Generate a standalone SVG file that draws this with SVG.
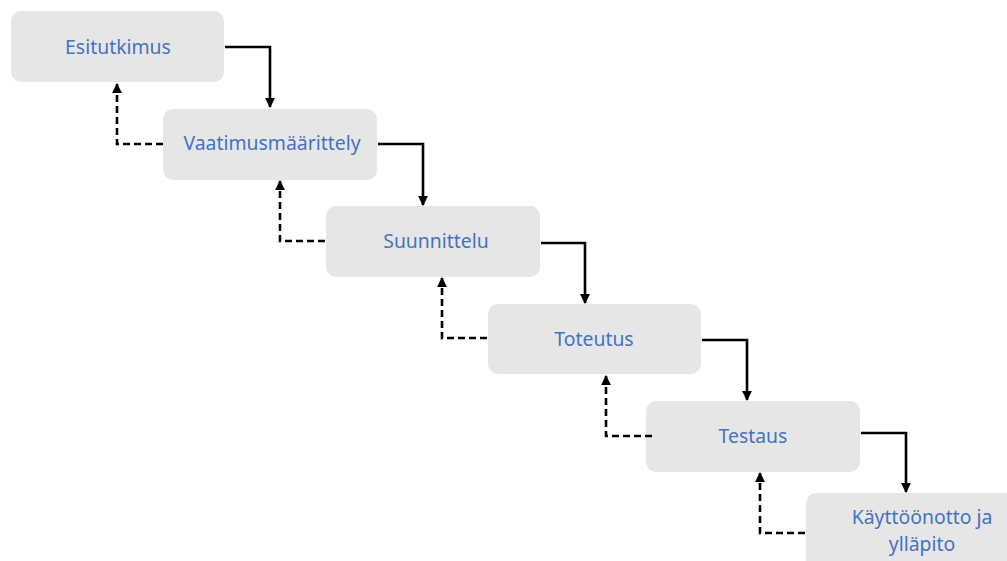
<svg xmlns="http://www.w3.org/2000/svg" width="1007" height="561" viewBox="0 0 1007 561">
  <style>
    .box { fill: #e6e6e6; }
    .lbl { font-family: "Noto Sans", "Liberation Sans", sans-serif; font-size: 19.4px; fill: #4472c4; text-anchor: middle; }
    .flow { fill: none; stroke: #000; stroke-width: 2.6; }
    .back { fill: none; stroke: #000; stroke-width: 2.6; stroke-dasharray: 7 4; }
  </style>
  <defs>
    <marker id="arrow" viewBox="0 0 10 10" refX="9" refY="5" markerWidth="3.8" markerHeight="3.8" orient="auto" markerUnits="strokeWidth">
      <path d="M0,0 L10,5 L0,10 Z" fill="#000"/>
    </marker>
  </defs>
  <rect width="1007" height="561" fill="#fff"/>

  <g id="esitutkimus">
    <rect class="box" x="11" y="11" width="213" height="71" rx="10"/>
    <text class="lbl" x="118" y="54">Esitutkimus</text>
  </g>
  <g id="vaatimusmaarittely">
    <rect class="box" x="163" y="109" width="214" height="71" rx="10"/>
    <text class="lbl" x="272" y="150">Vaatimusmäärittely</text>
  </g>
  <g id="suunnittelu">
    <rect class="box" x="326" y="206" width="214" height="71" rx="10"/>
    <text class="lbl" x="436" y="248">Suunnittelu</text>
  </g>
  <g id="toteutus">
    <rect class="box" x="488" y="304" width="213" height="70" rx="10"/>
    <text class="lbl" x="594" y="346">Toteutus</text>
  </g>
  <g id="testaus">
    <rect class="box" x="646" y="401" width="214" height="71" rx="10"/>
    <text class="lbl" x="753" y="443">Testaus</text>
  </g>
  <g id="kayttoonotto">
    <rect class="box" x="806" y="493" width="214" height="80" rx="10"/>
    <text class="lbl" x="922" y="524">Käyttöönotto ja</text>
    <text class="lbl" x="922" y="551">ylläpito</text>
  </g>

  <g id="connectors">
    <path class="flow" d="M225,47 H270 V107" marker-end="url(#arrow)"/>
    <path class="flow" d="M378,144 H423 V205" marker-end="url(#arrow)"/>
    <path class="flow" d="M541,243 H585 V303" marker-end="url(#arrow)"/>
    <path class="flow" d="M702,340 H747 V400" marker-end="url(#arrow)"/>
    <path class="flow" d="M861,433 H906 V492" marker-end="url(#arrow)"/>

    <path class="back" d="M163,144 H117 V84" marker-end="url(#arrow)"/>
    <path class="back" d="M325,241 H280 V181" marker-end="url(#arrow)"/>
    <path class="back" d="M487,338 H442 V278" marker-end="url(#arrow)"/>
    <path class="back" d="M652,436 H606 V376" marker-end="url(#arrow)"/>
    <path class="back" d="M805,533 H760 V473" marker-end="url(#arrow)"/>
  </g>
</svg>
